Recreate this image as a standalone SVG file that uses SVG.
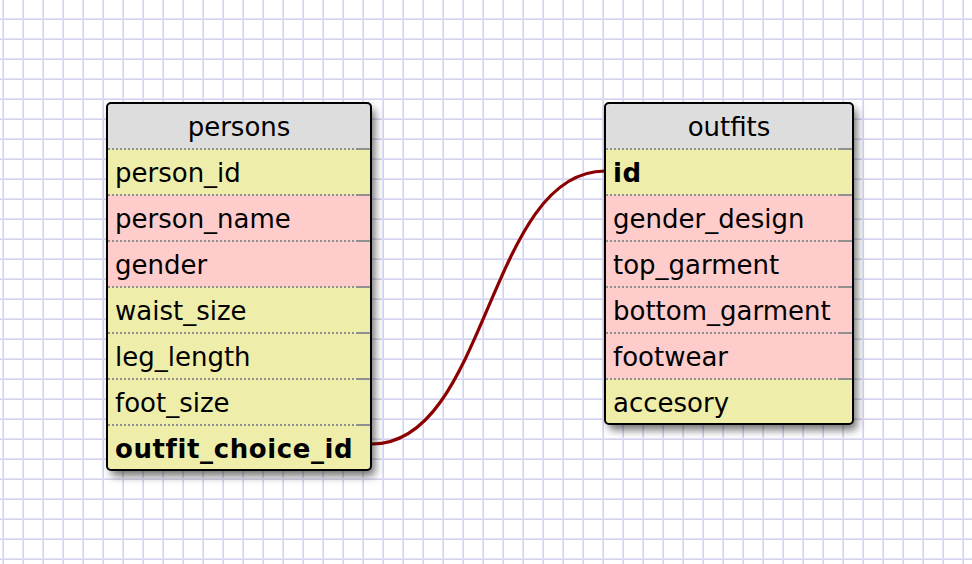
<svg xmlns="http://www.w3.org/2000/svg" width="972" height="564" viewBox="0 0 972 564">
  <defs>
    <pattern id="grid" x="0" y="0" width="20" height="20" patternUnits="userSpaceOnUse">
      <rect width="20" height="20" fill="#ffffff"/>
      <rect x="2" y="0" width="1" height="20" fill="#e2e2f7"/>
      <rect x="3" y="0" width="1" height="20" fill="#d4d4f0"/>
      <rect x="0" y="18" width="20" height="1" fill="#e2e2f7"/>
      <rect x="0" y="19" width="20" height="1" fill="#d4d4f0"/>
    </pattern>
    <filter id="shadow" x="-10%" y="-10%" width="130%" height="130%">
      <feDropShadow dx="4" dy="6" stdDeviation="4" flood-color="#000000" flood-opacity="0.55"/>
    </filter>
    <clipPath id="clipP"><rect x="107" y="103" width="264" height="367" rx="4"/></clipPath>
    <clipPath id="clipO"><rect x="605" y="103" width="248" height="321" rx="4"/></clipPath>
  </defs>
  <style>
    .hdr { fill: #dddddd; }
    .y { fill: #eeeeaa; }
    .p { fill: #ffcccc; }
    .sep { stroke: #909090; stroke-width: 2; stroke-dasharray: 2 2; fill: none; }
    .sepend { stroke: #909090; stroke-width: 2; fill: none; }
    .border { fill: none; stroke: #000000; stroke-width: 2; }
    .t { font-family: "DejaVu Sans", Verdana, sans-serif; font-size: 26px; fill: #000000; }
    .b { font-weight: bold; letter-spacing: 0.6px; }
    .title { text-anchor: middle; }
    .conn { fill: none; stroke: #8b0000; stroke-width: 3.2; }
  </style>
  <rect width="972" height="564" fill="url(#grid)"/>

  <g id="connectors">
    <path class="conn" d="M372,444 C488,444 488,171 605,171"/>
  </g>

  <g id="persons">
    <rect x="107" y="103" width="264" height="367" rx="4" fill="#eeeeaa" filter="url(#shadow)"/>
    <g clip-path="url(#clipP)">
      <rect class="hdr" x="107" y="103" width="264" height="46"/>
      <rect class="y" x="107" y="149" width="264" height="46"/>
      <rect class="p" x="107" y="195" width="264" height="46"/>
      <rect class="p" x="107" y="241" width="264" height="46"/>
      <rect class="y" x="107" y="287" width="264" height="46"/>
      <rect class="y" x="107" y="333" width="264" height="46"/>
      <rect class="y" x="107" y="379" width="264" height="46"/>
      <rect class="y" x="107" y="425" width="264" height="45"/>
    </g>
    <path class="sep" d="M108,149H356 M108,195H356 M108,241H356 M108,287H356 M108,333H356 M108,379H356 M108,425H356"/>
    <path class="sepend" d="M356,149H370 M356,195H370 M356,241H370 M356,287H370 M356,333H370 M356,379H370 M356,425H370"/>
    <rect class="border" x="107" y="103" width="264" height="367" rx="4"/>
    <text class="t title" x="239" y="136">persons</text>
    <text class="t" x="115" y="182">person_id</text>
    <text class="t" x="115" y="228">person_name</text>
    <text class="t" x="115" y="274">gender</text>
    <text class="t" x="115" y="320">waist_size</text>
    <text class="t" x="115" y="366">leg_length</text>
    <text class="t" x="115" y="412">foot_size</text>
    <text class="t b" x="115" y="458">outfit_choice_id</text>
  </g>

  <g id="outfits">
    <rect x="605" y="103" width="248" height="321" rx="4" fill="#eeeeaa" filter="url(#shadow)"/>
    <g clip-path="url(#clipO)">
      <rect class="hdr" x="605" y="103" width="248" height="46"/>
      <rect class="y" x="605" y="149" width="248" height="46"/>
      <rect class="p" x="605" y="195" width="248" height="46"/>
      <rect class="p" x="605" y="241" width="248" height="46"/>
      <rect class="p" x="605" y="287" width="248" height="46"/>
      <rect class="p" x="605" y="333" width="248" height="46"/>
      <rect class="y" x="605" y="379" width="248" height="45"/>
    </g>
    <path class="sep" d="M606,149H838 M606,195H838 M606,241H838 M606,287H838 M606,333H838 M606,379H838"/>
    <path class="sepend" d="M838,149H852 M838,195H852 M838,241H852 M838,287H852 M838,333H852 M838,379H852"/>
    <rect class="border" x="605" y="103" width="248" height="321" rx="4"/>
    <text class="t title" x="729" y="136">outfits</text>
    <text class="t b" x="613" y="182">id</text>
    <text class="t" x="613" y="228">gender_design</text>
    <text class="t" x="613" y="274">top_garment</text>
    <text class="t" x="613" y="320">bottom_garment</text>
    <text class="t" x="613" y="366">footwear</text>
    <text class="t" x="613" y="412">accesory</text>
  </g>
</svg>
